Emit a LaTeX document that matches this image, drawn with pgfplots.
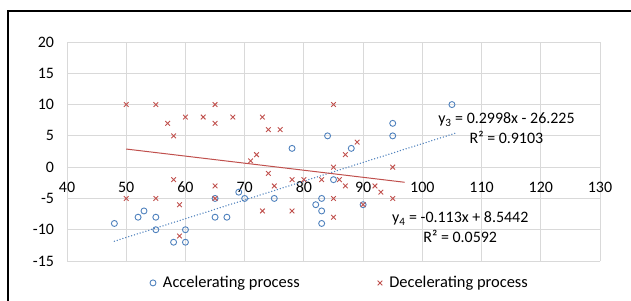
\documentclass[border=0pt]{standalone}
\usepackage{pgfplots}
\pgfplotsset{compat=1.18}
\usepackage{fontspec}
\setmainfont{Carlito}
\definecolor{xlblue}{HTML}{4F81BD}
\definecolor{xlred}{HTML}{C0504D}
\definecolor{gridc}{HTML}{D9D9D9}
\begin{document}
\begin{tikzpicture}[x=1bp,y=1bp]
\useasboundingbox (0,0) rectangle (631,300);
\draw[line width=1.5bp] (8,-5) -- (8,289) -- (640,289);
\begin{axis}[
  at={(67bp,39bp)}, anchor=south west,
  scale only axis, width=533bp, height=219bp,
  xmin=40, xmax=130, ymin=-15, ymax=20,
  xtick={40,50,...,130}, ytick={-15,-10,...,20},
  axis x line*=middle, axis y line*=left,
  hide obscured x ticks=false, hide obscured y ticks=false,
  axis line style={gridc, line width=0.8bp, -},
  grid=major, grid style={gridc, line width=0.8bp},
  major tick length=0pt,
  font=\fontsize{16}{19}\selectfont,
  /pgf/number format/assume math mode=true,
  xticklabel style={yshift=-11bp},
  yticklabel style={xshift=-9.5bp},
  clip=false,
  legend columns=2,
  legend style={at={(0.512,-0.10)}, anchor=center, draw=none, fill=none,
    font=\fontsize{16.5}{19}\selectfont,
    /tikz/every odd column/.append style={column sep=5bp},
    /tikz/every even column/.append style={column sep=76bp}},
]
\addplot[only marks, mark=o, mark size=3bp, draw=xlblue, mark options={line width=0.9bp}]
coordinates {(48,-9) (52,-8) (53,-7) (55,-8) (55,-10) (58,-12) (60,-12) (60,-10)
(65,-5) (65,-8) (67,-8) (69,-4) (70,-5) (75,-5) (78,3) (82,-6) (83,-5) (83,-7)
(83,-9) (84,5) (85,-2) (88,3) (90,-6) (95,7) (95,5) (105,10)};
\addlegendentry{Accelerating process}
\addplot[only marks, mark=x, mark size=3.3bp, draw=xlred, mark options={line width=0.9bp}]
coordinates {(50,10) (55,10) (65,10) (57,7) (60,8) (63,8) (65,7) (68,8) (58,5)
(73,8) (74,6) (76,6) (71,1) (72,2) (58,-2) (65,-3) (50,-5) (55,-5) (59,-6) (65,-5)
(59,-11) (74,-1) (75,-3) (73,-7) (78,-2) (78,-7) (80,-2) (83,-2) (85,10) (85,0)
(86,-2) (87,-3) (87,2) (89,4) (85,-5) (85,-8) (92,-3) (93,-4) (95,0) (95,-5) (90,-6)};
\addlegendentry{Decelerating process}
\addplot[forget plot, xlblue, line width=1.5bp, line cap=round, dash pattern=on 0bp off 3bp]
coordinates {(48,-11.835) (105.5,5.404)};
\addplot[forget plot, xlred, line width=1bp]
coordinates {(50,2.894) (97,-2.417)};
\node[align=center, font=\fontsize{16}{20}\selectfont] at (axis cs:114.2,6.2)
  {y\textsubscript{3} = 0.2998x - 26.225\\R² = 0.9103};
\node[align=center, font=\fontsize{16}{20}\selectfont] at (axis cs:106.4,-9.6)
  {y\textsubscript{4} = -0.113x + 8.5442\\R² = 0.0592};
\end{axis}
\end{tikzpicture}
\end{document}
